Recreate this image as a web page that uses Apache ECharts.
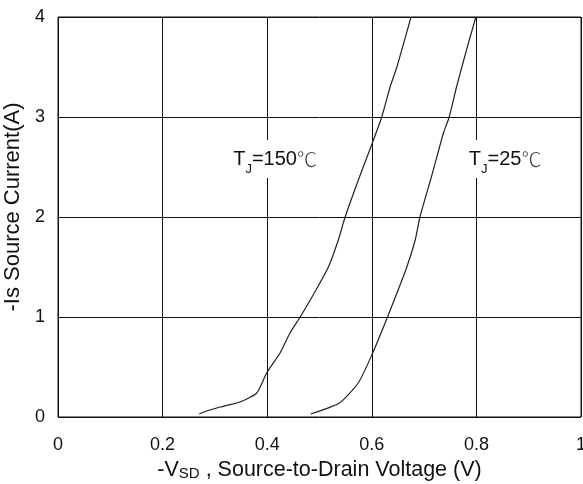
<!DOCTYPE html>
<html>
<head>
<meta charset="utf-8">
<script src="https://cdn.jsdelivr.net/npm/echarts@6/dist/echarts.min.js"></script>
<style>html,body{margin:0;padding:0;background:#fff;}#c{width:583px;height:484px;}</style>
</head>
<body>
<div id="c"></div>
<script>
const xTicks = [0, 0.2, 0.4, 0.6, 0.8, 1];
const yTicks = [0, 1, 2, 3, 4];
const vsd150 = [0.270, 0.290, 0.310, 0.348, 0.380, 0.399, 0.4245, 0.4436, 0.463, 0.490, 0.517, 0.536, 0.549, 0.575, 0.601, 0.619, 0.635, 0.648, 0.675];
const is150  = [0.03, 0.07, 0.10, 0.15, 0.24, 0.44, 0.64, 0.84, 1.00, 1.24, 1.50, 1.77, 2.00, 2.38, 2.74, 3.00, 3.30, 3.50, 4.00];
const vsd25 = [0.483, 0.538, 0.574, 0.600, 0.630, 0.667, 0.683, 0.692, 0.715, 0.737, 0.748, 0.762, 0.780, 0.799];
const is25  = [0.03, 0.14, 0.34, 0.62, 1.00, 1.50, 1.77, 2.00, 2.42, 2.84, 3.00, 3.30, 3.65, 4.00];
const labels = [
  {sub: 'J', temp: '=150', pos: [0.415, 2.58]},
  {sub: 'J', temp: '=25', pos: [0.855, 2.58]}
];

const font = '"Liberation Sans", Arial, sans-serif';
const chart = echarts.init(document.getElementById('c'));
const zip = (a, b) => a.map((v, i) => [v, b[i]]);
const richLabel = {
  a: {fontFamily: font, fontSize: 20, color: '#111'},
  b: {fontFamily: font, fontSize: 13, color: '#111', verticalAlign: 'bottom', padding: [0, 0, -7, 0]},
  c: {fontFamily: '"Noto Sans CJK SC", sans-serif', fontSize: 20, color: '#444', fontWeight: 300}
};
const mkLabel = l => ({
  symbol: 'rect', symbolSize: 1, itemStyle: {color: 'rgba(0,0,0,0)'},
  data: [{coord: l.pos, label: {show: true, position: 'inside', backgroundColor: '#fff', padding: [9, 6, 9, 6],
    formatter: '{a|T}{b|' + l.sub + '}{a|' + l.temp + '}{c|℃}', rich: richLabel}}]
});
chart.setOption({
  animation: false,
  backgroundColor: '#fff',
  grid: {left: 58, top: 17, width: 523, height: 400, show: true, borderColor: '#111', borderWidth: 1,
    containLabel: false, outerBoundsMode: 'none'},
  xAxis: {
    type: 'value', min: 0, max: 1, interval: 0.2,
    axisLine: {show: false}, axisTick: {show: false},
    splitLine: {show: true, lineStyle: {color: '#111', width: 1}},
    axisLabel: {margin: 19, fontFamily: font, fontSize: 18, color: '#111',
      formatter: v => { const t = xTicks.find(k => Math.abs(k - v) < 1e-9); return t === 0 || t === 1 ? String(t) : t.toFixed(1); }},
    name: '{a|-V}{s|SD}{a| , Source-to-Drain Voltage (V)}',
    nameLocation: 'middle', nameGap: 40,
    nameTextStyle: {rich: {
      a: {fontFamily: font, fontSize: 21.5, color: '#111'},
      s: {fontFamily: font, fontSize: 15, color: '#111', verticalAlign: 'top', padding: [7, 0, 0, 0]}
    }}
  },
  yAxis: {
    type: 'value', min: 0, max: 4, interval: 1,
    axisLine: {show: false}, axisTick: {show: false},
    splitLine: {show: true, lineStyle: {color: '#111', width: 1}},
    axisLabel: {margin: 13, fontFamily: font, fontSize: 18, color: '#111', formatter: v => String(yTicks.find(k => k === v))},
    name: '-Is Source Current(A)', nameLocation: 'middle', nameGap: 25,
    nameTextStyle: {fontFamily: font, fontSize: 22, color: '#111', padding: [0, 0, 0, 20]}
  },
  series: [
    {type: 'line', data: zip(vsd150, is150), showSymbol: false, smooth: 0.2,
      lineStyle: {color: '#222', width: 1.2}, markPoint: mkLabel(labels[0])},
    {type: 'line', data: zip(vsd25, is25), showSymbol: false, smooth: 0.2,
      lineStyle: {color: '#222', width: 1.2}, markPoint: mkLabel(labels[1])}
  ]
});
</script>
</body>
</html>
